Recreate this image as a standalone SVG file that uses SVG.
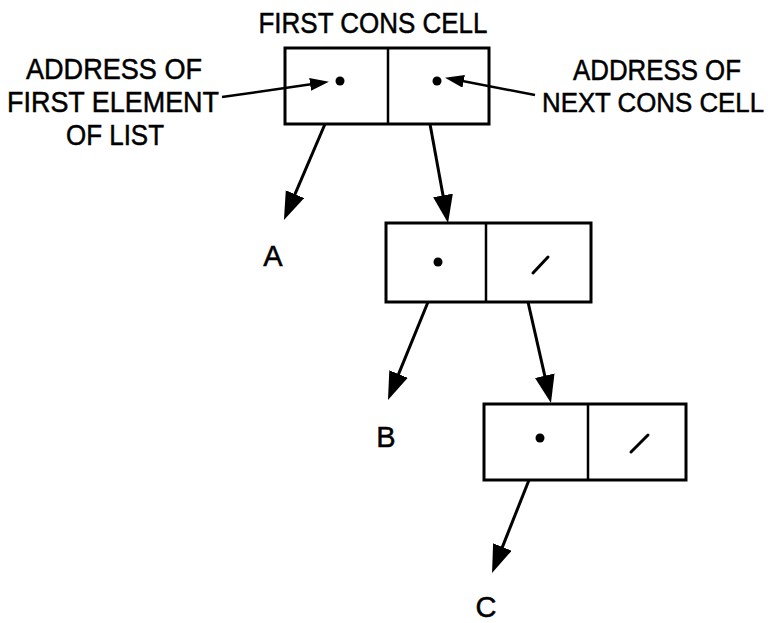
<svg xmlns="http://www.w3.org/2000/svg" width="781" height="623" viewBox="0 0 781 623">
  <style>
    .cell { fill: none; stroke: #000; stroke-width: 3; }
    .div { stroke: #000; stroke-width: 2.5; }
    .dot { fill: #000; }
    .slash { stroke: #000; stroke-width: 3; stroke-linecap: round; }
    .ptr { stroke: #000; stroke-width: 3; fill: none; }
    .lbl { stroke: #000; stroke-width: 2.5; fill: none; }
    text { font-family: "Liberation Sans", Arial, Helvetica, sans-serif; font-size: 29px; fill: #000; stroke: #000; stroke-width: 0.5; }
    .c { text-anchor: middle; }
    .s { font-size: 27px; }
  </style>
  <defs>
    <marker id="big" markerUnits="userSpaceOnUse" markerWidth="30" markerHeight="22" refX="20" refY="10" orient="auto">
      <path d="M0,0 L28,10 L0,20 z" fill="#000"/>
    </marker>
    <marker id="small" markerUnits="userSpaceOnUse" markerWidth="20" markerHeight="14" refX="13" refY="6.5" orient="auto">
      <path d="M0,0 L19,6.5 L0,13 z" fill="#000"/>
    </marker>
  </defs>
  <rect width="781" height="623" fill="#fff"/>

  <g id="title">
    <text x="373" y="33" class="c" textLength="229" lengthAdjust="spacingAndGlyphs">FIRST CONS CELL</text>
  </g>

  <g id="label-first">
    <text x="114" y="79" class="c" textLength="176" lengthAdjust="spacingAndGlyphs">ADDRESS OF</text>
    <text x="113" y="112" class="c" textLength="212" lengthAdjust="spacingAndGlyphs">FIRST ELEMENT</text>
    <text x="115" y="145" class="c" textLength="98" lengthAdjust="spacingAndGlyphs">OF LIST</text>
  </g>

  <g id="label-next">
    <text x="657" y="80" class="c" textLength="168" lengthAdjust="spacingAndGlyphs">ADDRESS OF</text>
    <text x="653" y="112" class="c s" textLength="222" lengthAdjust="spacingAndGlyphs">NEXT CONS CELL</text>
  </g>

  <g id="cell1">
    <rect class="cell" x="285" y="48" width="204" height="76"/>
    <line class="div" x1="388" y1="48" x2="388" y2="124"/>
    <circle class="dot" cx="340" cy="81" r="4.5"/>
    <circle class="dot" cx="437" cy="81" r="4.5"/>
  </g>

  <g id="cell2">
    <rect class="cell" x="386" y="223" width="205" height="79"/>
    <line class="div" x1="486" y1="223" x2="486" y2="302"/>
    <circle class="dot" cx="438" cy="262" r="4.5"/>
    <line class="slash" x1="533" y1="273" x2="548" y2="257"/>
  </g>

  <g id="cell3">
    <rect class="cell" x="484" y="404" width="202" height="76"/>
    <line class="div" x1="588" y1="404" x2="588" y2="480"/>
    <circle class="dot" cx="540" cy="438" r="4.5"/>
    <line class="slash" x1="631" y1="452" x2="648" y2="435"/>
  </g>

  <g id="A"><text x="273" y="266" class="c">A</text></g>
  <g id="B"><text x="386" y="447" class="c">B</text></g>
  <g id="C"><text x="486" y="617" class="c">C</text></g>

  <g id="connectors">
    <line class="lbl" x1="222" y1="97" x2="323" y2="82.6" marker-end="url(#small)"/>
    <line class="lbl" x1="535" y1="95" x2="450.9" y2="78.8" marker-end="url(#small)"/>
    <line class="ptr" x1="325" y1="124" x2="287.1" y2="212.6" marker-end="url(#big)"/>
    <line class="ptr" x1="430" y1="124" x2="446.6" y2="215.1" marker-end="url(#big)"/>
    <line class="ptr" x1="428" y1="302" x2="391.0" y2="392.6" marker-end="url(#big)"/>
    <line class="ptr" x1="528" y1="302" x2="549.2" y2="395.2" marker-end="url(#big)"/>
    <line class="ptr" x1="529" y1="480" x2="495.0" y2="565.6" marker-end="url(#big)"/>
  </g>
</svg>
